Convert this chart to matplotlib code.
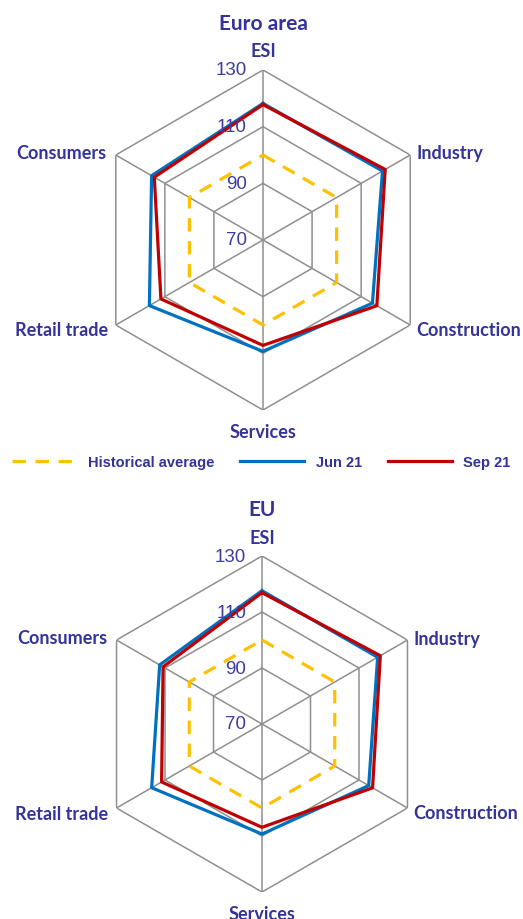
import numpy as np
import matplotlib
matplotlib.use("Agg")
import matplotlib.pyplot as plt
from matplotlib.lines import Line2D

# axes, clockwise from the top
categories = ["ESI", "Industry", "Construction", "Services", "Retail trade", "Consumers"]
ticks = [70, 90, 110, 130]

hist_avg = [100, 100, 100, 100, 100, 100]

ea_jun21 = [118.2, 118.7, 114.6, 109.3, 116.3, 115.4]
ea_sep21 = [117.8, 119.8, 116.4, 107.2, 111.6, 114.3]

eu_jun21 = [117.6, 117.7, 114.0, 109.3, 115.5, 112.2]
eu_sep21 = [116.9, 118.8, 115.6, 106.9, 111.4, 110.8]

NAVY = "#333399"
TICKC = "#3d3d9e"
GRIDC = "#8f8f8f"
YEL = "#ffc000"
BLUE = "#0070c0"
RED = "#c00000"

W, H = 523, 920
fig = plt.figure(figsize=(W / 100, H / 100), dpi=100)

n = len(categories)
ang = np.arange(n) * 2 * np.pi / n
ang_c = np.append(ang, ang[0])


def closed(v):
    return np.append(v, v[0])


def radar(cx, cy, rad, title, jun, sep):
    ax = fig.add_axes([(cx - rad) / W, 1 - (cy + rad) / H, 2 * rad / W, 2 * rad / H],
                      projection="polar")
    ax.set_theta_zero_location("N")
    ax.set_theta_direction(-1)
    ax.set_ylim(ticks[0], ticks[-1])
    ax.grid(False)
    ax.set_xticks([])
    ax.set_yticks([])
    ax.spines["polar"].set_visible(False)
    ax.patch.set_alpha(0)

    # hexagon rings and spokes
    for t in ticks[1:]:
        ax.plot(ang_c, [t] * (n + 1), color=GRIDC, lw=1.1, zorder=1)
    for a in ang:
        ax.plot([a, a], [ticks[0], ticks[-1]], color=GRIDC, lw=1.1, zorder=1)

    ax.plot(ang_c, closed(hist_avg), color=YEL, lw=2.3, ls=(0, (4.2, 3)), zorder=2)
    ax.plot(ang_c, closed(jun), color=BLUE, lw=2.3, zorder=3)
    ax.plot(ang_c, closed(sep), color=RED, lw=2.3, zorder=4)

    for t in ticks:
        ax.annotate(str(t), xy=(0, t), xytext=(-16, 0), textcoords="offset pixels",
                    ha="right", va="center", fontsize=13.5, color=TICKC,
                    family="Liberation Sans", zorder=5, annotation_clip=False)

    offs = [(0, 19, "center", "center"), (6, 2, "left", "center"),
            (6, -5, "left", "center"), (0, -22, "center", "center"),
            (-8, -5, "right", "center"), (-9, 2, "right", "center")]
    for a, lab, (dx, dy, ha, va) in zip(ang, categories, offs):
        ax.annotate(lab, xy=(a, ticks[-1]), xytext=(dx, dy), textcoords="offset pixels",
                    ha=ha, va=va, fontsize=13, fontweight="bold", color=NAVY,
                    family="Lato", annotation_clip=False)

    ax.annotate(title, xy=(0, ticks[-1]), xytext=(0, 47), textcoords="offset pixels",
                ha="center", va="center", fontsize=15, fontweight="bold", color=NAVY,
                family="Lato", annotation_clip=False)
    return ax


radar(263, 241, 170, "Euro area", ea_jun21, ea_sep21)
radar(262, 725, 168, "EU", eu_jun21, eu_sep21)

handles = [Line2D([], [], color=YEL, lw=2.3, ls=(0, (4.2, 3))),
           Line2D([], [], color=BLUE, lw=2.3),
           Line2D([], [], color=RED, lw=2.3)]
fig.legend(handles, ["Historical average", "Jun 21", "Sep 21"],
           loc="center", bbox_to_anchor=(0.5, 1 - 463 / H), ncol=3, frameon=False,
           handlelength=4.4, handletextpad=0.8, columnspacing=1.75,
           prop={"family": "Liberation Sans", "weight": "bold", "size": 10.5},
           labelcolor=NAVY)

fig.savefig("out.png", dpi=100, facecolor="white")
